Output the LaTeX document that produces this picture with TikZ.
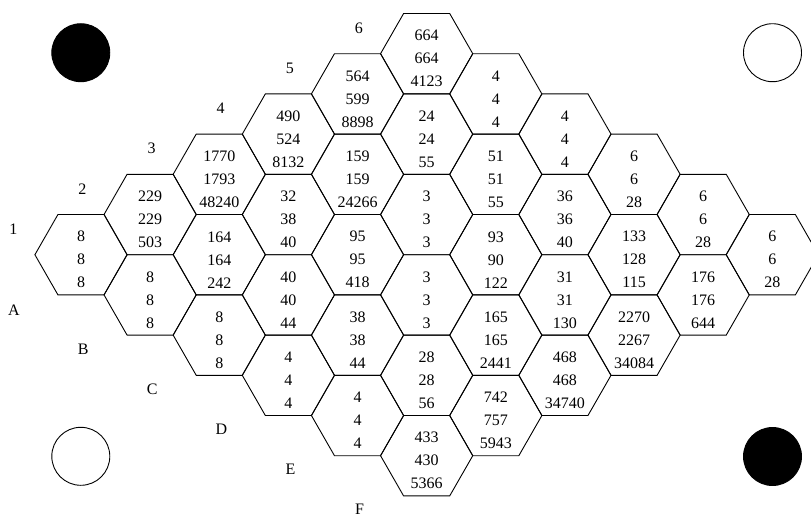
\documentclass[tikz,border=0pt]{standalone}
\usepackage{fontspec}
\setmainfont{Liberation Serif}
\begin{document}
\begin{tikzpicture}[x=1pt,y=-1pt,
  hexcell/.style={draw=black, line width=0.9pt, line join=miter},
  cellval/.style={align=center, font=\fontsize{16}{23}\selectfont, inner sep=0pt},
  edgelabel/.style={font=\fontsize{16}{19}\selectfont, inner sep=0pt},
  stone/.style={circle, draw=black, line width=0.9pt, minimum size=58pt, inner sep=0pt},
  ]
\useasboundingbox (0,0) rectangle (811,517);
\clip (0,0) rectangle (811,517);
\foreach \a/\n/\v in {
  0/0/{8\\8\\8}, 1/0/{8\\8\\8}, 2/0/{8\\8\\8}, 3/0/{4\\4\\4}, 4/0/{4\\4\\4}, 5/0/{433\\430\\5366},
  0/1/{229\\229\\503}, 1/1/{164\\164\\242}, 2/1/{40\\40\\44}, 3/1/{38\\38\\44}, 4/1/{28\\28\\56}, 5/1/{742\\757\\5943},
  0/2/{1770\\1793\\48240}, 1/2/{32\\38\\40}, 2/2/{95\\95\\418}, 3/2/{3\\3\\3}, 4/2/{165\\165\\2441}, 5/2/{468\\468\\34740},
  0/3/{490\\524\\8132}, 1/3/{159\\159\\24266}, 2/3/{3\\3\\3}, 3/3/{93\\90\\122}, 4/3/{31\\31\\130}, 5/3/{2270\\2267\\34084},
  0/4/{564\\599\\8898}, 1/4/{24\\24\\55}, 2/4/{51\\51\\55}, 3/4/{36\\36\\40}, 4/4/{133\\128\\115}, 5/4/{176\\176\\644},
  0/5/{664\\664\\4123}, 1/5/{4\\4\\4}, 2/5/{4\\4\\4}, 3/5/{6\\6\\28}, 4/5/{6\\6\\28}, 5/5/{6\\6\\28}}{
  \pgfmathsetmacro\cx{81+69.13*(\a+\n)}
  \pgfmathsetmacro\cy{254.7+40.2*(\a-\n)}
  \draw[hexcell] (\cx-46.1,\cy) -- ++(23.05,-40.2) -- ++(46.1,0) -- ++(23.05,40.2)
     -- ++(-23.05,40.2) -- ++(-46.1,0) -- cycle;
  \node[cellval] (c\a\n) at (\cx,\cy+5) {\v};
}
\foreach \k/\num/\lbl in {0/1/A, 1/2/B, 2/3/C, 3/4/D, 4/5/E, 5/6/F}{
  \node[edgelabel] (num\num) at (13.3+69.13*\k, 229-40.2*\k) {\num};
  \node[edgelabel] (let\lbl) at (14+69.13*\k, 309.8+39.9*\k) {\lbl};
}
\node[stone, fill=black] (stoneTL) at (80.8,52.7) {};
\node[stone, fill=white] (stoneTR) at (772.5,52.7) {};
\node[stone, fill=white] (stoneBL) at (80.8,456.3) {};
\node[stone, fill=black] (stoneBR) at (772.5,456.5) {};
\end{tikzpicture}
\end{document}
